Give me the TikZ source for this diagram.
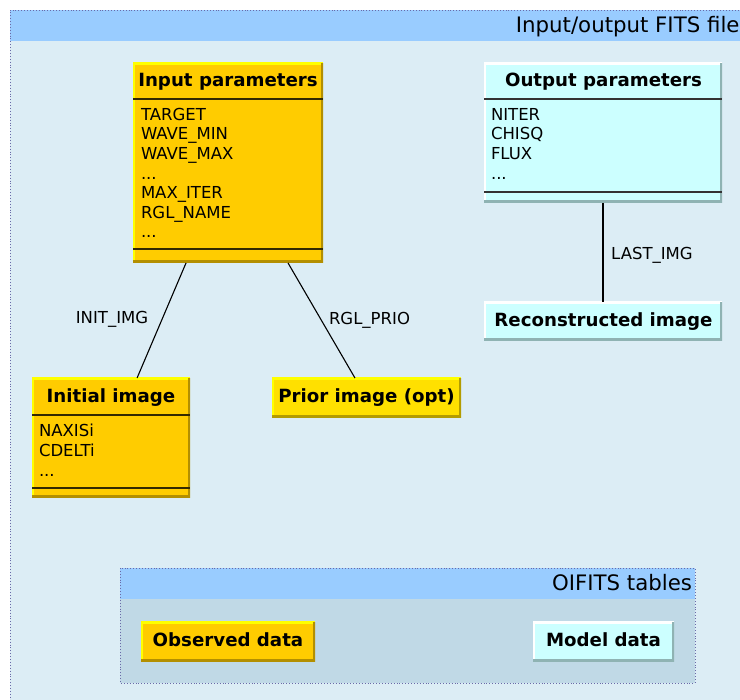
\documentclass[tikz,border=0pt]{standalone}
\usepackage{fontspec}
\setmainfont{DejaVu Sans}
\usetikzlibrary{calc}
\newcommand\mydots{...}
\definecolor{outerbg}{HTML}{DCEDF5}
\definecolor{hdr}{HTML}{99CCFF}
\definecolor{innerbg}{HTML}{C0D9E6}
\definecolor{dotc}{HTML}{6A6AA8}
\definecolor{ycol}{HTML}{FFCC00}
\definecolor{ylight}{HTML}{FFFF00}
\definecolor{ydark}{HTML}{B38F00}
\definecolor{ysepc}{HTML}{332900}
\definecolor{pcol}{HTML}{FFE000}
\definecolor{pdark}{HTML}{B39C00}
\definecolor{ccol}{HTML}{CCFFFF}
\definecolor{cdark}{HTML}{8FB3B3}
\tikzset{
  every node/.style={font=\fontsize{16.5}{19.5}\selectfont, inner sep=0pt, outer sep=0pt},
  ttl/.style={font=\bfseries\fontsize{18.2}{22}\selectfont, anchor=base},
  ctitle/.style={font=\fontsize{21.3}{25}\selectfont, anchor=base east},
  item/.style={anchor=base west},
  elabel/.style={anchor=base},
  bevel/.style n args={3}{fill=#1, path picture={
    \draw[#2, line width=4pt] (path picture bounding box.south west) -- (path picture bounding box.north west) -- (path picture bounding box.north east);
    \draw[#3, line width=5pt] (path picture bounding box.south west) -- (path picture bounding box.south east) -- (path picture bounding box.north east);}},
  ybox/.style={bevel={ycol}{ylight}{ydark}},
  pbox/.style={bevel={pcol}{ylight}{pdark}},
  cbox/.style={bevel={ccol}{white}{cdark}},
  ysep/.style={draw=ysepc, line width=1.6pt},
  csep/.style={draw=black!80, line width=1.6pt},
  edge/.style={draw=black, line width=1.1pt},
  cluster/.style={draw=dotc, dotted, line width=0.9pt},
}
\begin{document}
\begin{tikzpicture}[x=1pt,y=-1pt]
\useasboundingbox (0,0) rectangle (740,700);
\clip (0,0) rectangle (740,700);
% outer cluster
\fill[outerbg] (10,10) rectangle (750,710);
\fill[hdr] (10,10) rectangle (750,41);
\draw[cluster] (750,10) -- (10,10) -- (10,710);
\node[ctitle] (outtitle) at (739.5,33) {Input/output FITS file};

% OIFITS cluster
\fill[innerbg] (120,568) rectangle (695,683);
\fill[hdr] (120,568) rectangle (695,599);
\draw[cluster] (120,568) rectangle (695,683);
\node[ctitle] (oititle) at (692,591) {OIFITS tables};

% Input parameters
\node[ybox, minimum width=190pt, minimum height=200pt] (inp) at (228,163) {};
\draw[ysep] (133,99) -- (323,99);
\draw[ysep] (133,249) -- (323,249);
\node[ttl] (inp-t) at (228,87) {Input parameters};
\foreach \t [count=\i] in {TARGET,WAVE\_MIN,WAVE\_MAX,\mydots,MAX\_ITER,RGL\_NAME,\mydots}
  \node[item] (inp-\i) at (141,{120.3+19.6*(\i-1)}) {\t};

% Output parameters
\node[cbox, minimum width=238pt, minimum height=140pt] (outp) at (603,133) {};
\draw[csep] (484,99) -- (722,99);
\draw[csep] (484,192) -- (722,192);
\node[ttl] (outp-t) at (603.5,87) {Output parameters};
\foreach \t [count=\i] in {NITER,CHISQ,FLUX,\mydots}
  \node[item] (outp-\i) at (491,{120.3+19.6*(\i-1)}) {\t};

% Reconstructed image
\node[cbox, minimum width=238pt, minimum height=39pt] (rec) at (603,321.5) {};
\node[ttl] (rec-t) at (603.5,327) {Reconstructed image};

% Initial image
\node[ybox, minimum width=158pt, minimum height=120pt] (init) at (111,438) {};
\draw[ysep] (32,415) -- (190,415);
\draw[ysep] (32,488) -- (190,488);
\node[ttl] (init-t) at (111,403) {Initial image};
\foreach \t [count=\i] in {NAXISi,CDELTi,\mydots}
  \node[item] (init-\i) at (39,{437+19.6*(\i-1)}) {\t};

% Prior image
\node[pbox, minimum width=189pt, minimum height=40pt] (prior) at (366.5,398) {};
\node[ttl] (prior-t) at (366.5,403) {Prior image (opt)};

% OIFITS contents
\node[ybox, minimum width=174pt, minimum height=40pt] (obs) at (228,642) {};
\node[ttl] (obs-t) at (228,647) {Observed data};
\node[cbox, minimum width=141pt, minimum height=40pt] (mod) at (603.5,642) {};
\node[ttl] (mod-t) at (603.5,647) {Model data};

% connectors
\draw[edge] ($(inp.south west)!0.279!(inp.south east)$) -- ($(init.north west)!0.665!(init.north east)$);
\draw[edge] ($(inp.south west)!0.816!(inp.south east)$) -- ($(prior.north west)!0.439!(prior.north east)$);
\draw[edge] (outp.south) -- (rec.north);
\node[elabel] (l-init) at (112,323.3) {INIT\_IMG};
\node[elabel] (l-prio) at (369.5,325) {RGL\_PRIO};
\node[elabel] (l-last) at (652,259.3) {LAST\_IMG};
\end{tikzpicture}
\end{document}
